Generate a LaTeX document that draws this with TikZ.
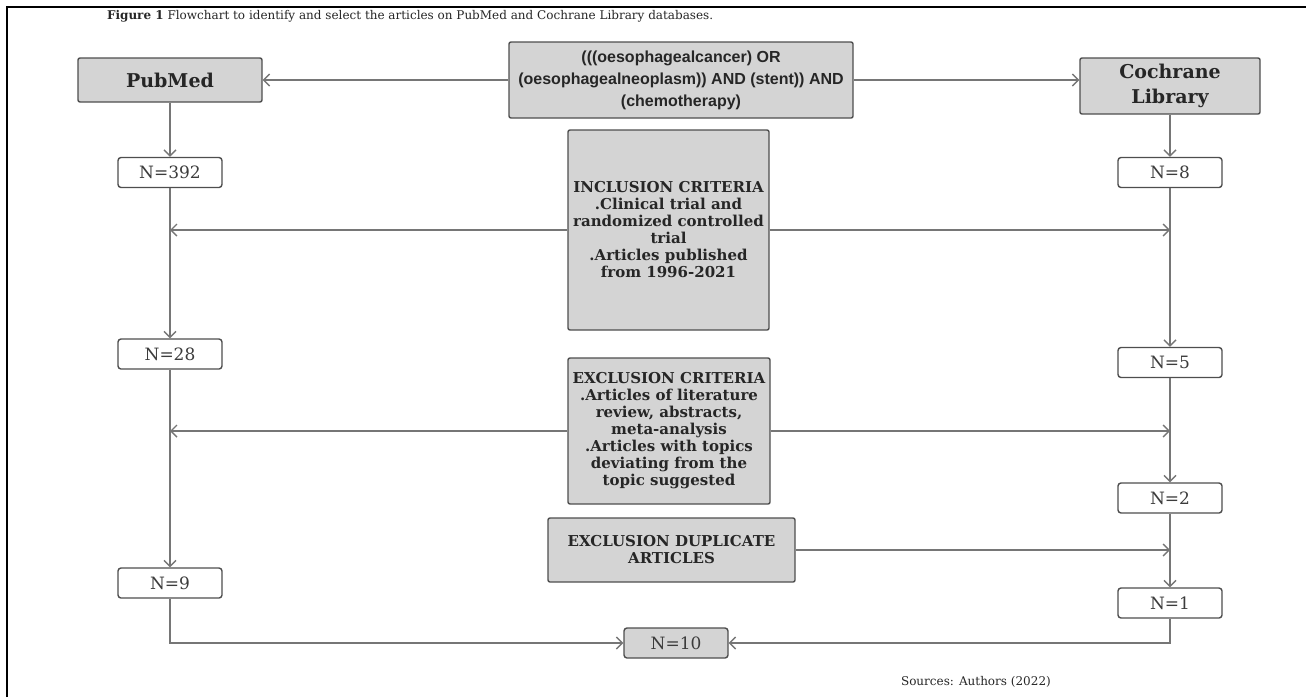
\documentclass[tikz,border=0pt]{standalone}
\usepackage{fontspec}
\setmainfont{DejaVu Serif}
\newfontfamily\querysans{Liberation Sans}
\usetikzlibrary{arrows.meta}
\definecolor{boxgray}{HTML}{D4D4D4}
\definecolor{edgegray}{HTML}{767676}
\definecolor{rimgray}{HTML}{4E4E4E}
\definecolor{inkgray}{HTML}{262626}

\begin{document}
\begin{tikzpicture}[x=1pt, y=-1pt, line width=1.4pt]
	\tikzstyle{graybox} = [draw=rimgray, fill=boxgray, rounded corners=2pt, inner sep=0pt, align=center, text=inkgray, font=\bfseries\fontsize{15}{17}\selectfont]
	\tikzstyle{countbox} = [draw=rimgray, fill=white, rounded corners=3pt, inner sep=0pt, minimum width=104pt, minimum height=30pt, text=inkgray!90, font=\fontsize{17}{20}\selectfont]
	\tikzstyle{arr} = [draw=edgegray, -{Straight Barb[length=6pt, width=12pt]}]
	\useasboundingbox (0,0) rectangle (1306,697);
	\draw[black, line width=1.8pt] (7,697) -- (7,7) -- (1306,7);
	\node[anchor=west, text=inkgray, font=\fontsize{12}{14}\selectfont] (title) at (103,16) {\textbf{Figure 1} Flowchart to identify and select the articles on PubMed and Cochrane Library databases.};
	\node[anchor=west, text=inkgray, font=\fontsize{12}{14}\selectfont] (source) at (897,682) {Sources: Authors (2022)};
	% search string and databases
	\node[graybox, minimum width=344pt, minimum height=76pt, font=\querysans\bfseries\fontsize{16}{22}\selectfont] (query) at (681,80) {(((oesophagealcancer) OR\\(oesophagealneoplasm)) AND (stent)) AND\\(chemotherapy)};
	\node[graybox, minimum width=184pt, minimum height=44pt, font=\bfseries\fontsize{19}{24}\selectfont] (pubmed) at (170,80) {PubMed};
	\node[graybox, minimum width=180pt, minimum height=56pt, font=\bfseries\fontsize{19}{25}\selectfont] (cochrane) at (1170,86) {Cochrane\\Library};
	% criteria
	\node[graybox, minimum width=201pt, minimum height=200pt] (incl) at (668.5,230) {INCLUSION CRITERIA\\.Clinical trial and\\randomized controlled\\trial\\.Articles published\\from 1996-2021};
	\node[graybox, minimum width=202pt, minimum height=146pt] (excl) at (669,431) {EXCLUSION CRITERIA\\.Articles of literature\\review, abstracts,\\meta-analysis\\.Articles with topics\\deviating from the\\topic suggested};
	\node[graybox, minimum width=247pt, minimum height=64pt] (dup) at (671.5,550) {EXCLUSION DUPLICATE\\ARTICLES};
	% counts
	\node[countbox] (n392) at (170,172.5) {N=392};
	\node[countbox] (n28) at (170,354) {N=28};
	\node[countbox] (n9) at (170,583) {N=9};
	\node[countbox] (n8) at (1170,172.5) {N=8};
	\node[countbox] (n5) at (1170,362.5) {N=5};
	\node[countbox] (n2) at (1170,498) {N=2};
	\node[countbox] (n1) at (1170,603) {N=1};
	\node[countbox, fill=boxgray] (n10) at (676,643) {N=10};
	% connectors
	\draw[arr] (query.west) -- (pubmed.east);
	\draw[arr] (query.east) -- (query.east -| cochrane.west);
	\draw[arr] (pubmed) -- (n392);
	\draw[arr] (n392) -- (n28);
	\draw[arr] (n28) -- (n9);
	\draw[arr] (cochrane) -- (n8);
	\draw[arr] (n8) -- (n5);
	\draw[arr] (n5) -- (n2);
	\draw[arr] (n2) -- (n1);
	\draw[arr] (incl.west) -- (incl.west -| n392);
	\draw[arr] (incl.east) -- (incl.east -| n8);
	\draw[arr] (excl.west) -- (excl.west -| n28);
	\draw[arr] (excl.east) -- (excl.east -| n5);
	\draw[arr] (dup.east) -- (dup.east -| n2);
	\draw[arr] (n9.south) |- (n10.west);
	\draw[arr] (n1.south) |- (n10.east);
\end{tikzpicture}
\end{document}
